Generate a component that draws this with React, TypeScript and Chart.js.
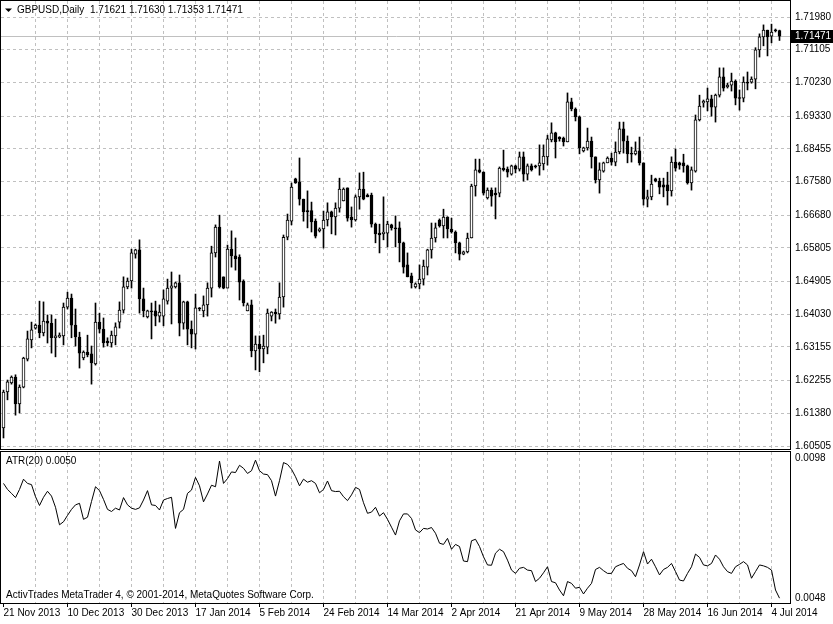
import React, { useEffect, useRef } from 'react';
import { Chart, registerables } from 'chart.js';

Chart.register(...registerables);

const symbolTitle = 'GBPUSD,Daily';
const atrPeriod = 20;
const copyrightText = 'ActivTrades MetaTrader 4, \u00A9 2001-2014, MetaQuotes Software Corp.';

const dateLabels = ['21 Nov 2013', '10 Dec 2013', '30 Dec 2013', '17 Jan 2014', '5 Feb 2014', '24 Feb 2014', '14 Mar 2014', '2 Apr 2014', '21 Apr 2014', '9 May 2014', '28 May 2014', '16 Jun 2014', '4 Jul 2014'];
const priceTicks = [1.60505, 1.6138, 1.62255, 1.63155, 1.6403, 1.64905, 1.65805, 1.6668, 1.6758, 1.68455, 1.6933, 1.7023, 1.71105, 1.7198];
const atrAxisLabels = ['0.0098', '0.0048'];
const atrMin = 0.0048;
const atrMax = 0.0098;
const priceMin = 1.60425;
const priceMax = 1.72409;

const opens = [
  1.6099, 1.6195, 1.6219, 1.6235, 1.6163, 1.6208, 1.6283, 1.6334, 1.6366, 1.6374,
  1.6353, 1.6385, 1.6379, 1.6340, 1.6342, 1.6345, 1.6422, 1.6446, 1.6374, 1.6342,
  1.6286, 1.6302, 1.6297, 1.6270, 1.6382, 1.6363, 1.6331, 1.6326, 1.6345, 1.6382,
  1.6414, 1.6476, 1.6492, 1.6564, 1.6575, 1.6444, 1.6396, 1.6412, 1.6412, 1.6398,
  1.6398, 1.6438, 1.6473, 1.6476, 1.6487, 1.6379, 1.6436, 1.6363, 1.6350, 1.6420,
  1.6412, 1.6428, 1.6473, 1.6567, 1.6636, 1.6503, 1.6473, 1.6577, 1.6559, 1.6556,
  1.6492, 1.6412, 1.6428, 1.6305, 1.6323, 1.6310, 1.6315, 1.6398, 1.6409, 1.6404,
  1.6449, 1.6609, 1.6652, 1.6765, 1.6757, 1.6711, 1.6680, 1.6680, 1.6652, 1.6626,
  1.6631, 1.6655, 1.6677, 1.6663, 1.6687, 1.6706, 1.6741, 1.6663, 1.6655, 1.6717,
  1.6738, 1.6722, 1.6722, 1.6644, 1.6620, 1.6618, 1.6620, 1.6642, 1.6634, 1.6634,
  1.6594, 1.6535, 1.6506, 1.6476, 1.6484, 1.6497, 1.6529, 1.6575, 1.6607, 1.6655,
  1.6639, 1.6663, 1.6631, 1.6623, 1.6594, 1.6564, 1.6570, 1.6607, 1.6746, 1.6789,
  1.6783, 1.6714, 1.6735, 1.6727, 1.6727, 1.6794, 1.6791, 1.6778, 1.6800, 1.6791,
  1.6824, 1.6778, 1.6800, 1.6800, 1.6800, 1.6805, 1.6824, 1.6869, 1.6888, 1.6877,
  1.6874, 1.6864, 1.6971, 1.6952, 1.6931, 1.6840, 1.6848, 1.6866, 1.6824, 1.6762,
  1.6786, 1.6808, 1.6821, 1.6810, 1.6837, 1.6899, 1.6866, 1.6832, 1.6832, 1.6840,
  1.6808, 1.6711, 1.6717, 1.6765, 1.6759, 1.6749, 1.6749, 1.6733, 1.6810, 1.6808,
  1.6808, 1.6800, 1.6754, 1.6786, 1.6923, 1.6968, 1.6971, 1.6979, 1.6957, 1.6989,
  1.7038, 1.7011, 1.7016, 1.7027, 1.6981, 1.6981, 1.7024, 1.7024, 1.7032, 1.7110,
  1.7145, 1.7163, 1.7147, 1.7163, 1.71621,
];

const highs = [
  1.6200, 1.6227, 1.6238, 1.6241, 1.6214, 1.6288, 1.6358, 1.6382, 1.6377, 1.6438,
  1.6436, 1.6401, 1.6401, 1.6390, 1.6353, 1.6433, 1.6462, 1.6457, 1.6417, 1.6355,
  1.6305, 1.6347, 1.6318, 1.6433, 1.6406, 1.6393, 1.6340, 1.6358, 1.6380, 1.6436,
  1.6503, 1.6500, 1.6577, 1.6577, 1.6602, 1.6473, 1.6414, 1.6433, 1.6438, 1.6428,
  1.6468, 1.6497, 1.6516, 1.6489, 1.6508, 1.6438, 1.6438, 1.6385, 1.6457, 1.6421,
  1.6452, 1.6487, 1.6585, 1.6642, 1.6668, 1.6503, 1.6588, 1.6626, 1.6607, 1.6562,
  1.6495, 1.6433, 1.6441, 1.6345, 1.6345, 1.6347, 1.6417, 1.6410, 1.6417, 1.6487,
  1.6615, 1.6671, 1.6754, 1.6767, 1.6821, 1.6711, 1.6733, 1.6703, 1.6658, 1.6634,
  1.6679, 1.6701, 1.6679, 1.6701, 1.6767, 1.6741, 1.6741, 1.6690, 1.6722, 1.6781,
  1.6783, 1.6725, 1.6727, 1.6647, 1.6644, 1.6717, 1.6652, 1.6644, 1.6666, 1.6650,
  1.6596, 1.6567, 1.6513, 1.6487, 1.6535, 1.6548, 1.6577, 1.6647, 1.6647, 1.6658,
  1.6684, 1.6664, 1.6660, 1.6626, 1.6596, 1.6572, 1.6620, 1.6751, 1.6818, 1.6818,
  1.6784, 1.6741, 1.6741, 1.6741, 1.6797, 1.6842, 1.6797, 1.6802, 1.6802, 1.6837,
  1.6837, 1.6805, 1.6805, 1.6802, 1.6856, 1.6856, 1.6882, 1.6915, 1.6890, 1.6878,
  1.6877, 1.6995, 1.6981, 1.6955, 1.6933, 1.6850, 1.6901, 1.6877, 1.6824, 1.6808,
  1.6810, 1.6824, 1.6834, 1.6864, 1.6917, 1.6917, 1.6880, 1.6850, 1.6864, 1.6877,
  1.6808, 1.6735, 1.6775, 1.6767, 1.6767, 1.6767, 1.6783, 1.6824, 1.6845, 1.6810,
  1.6831, 1.6802, 1.6797, 1.6936, 1.6989, 1.6976, 1.7008, 1.6989, 1.6992, 1.7062,
  1.7062, 1.7021, 1.7048, 1.7030, 1.7003, 1.7038, 1.7051, 1.7038, 1.7116, 1.7153,
  1.7177, 1.7163, 1.7179, 1.7166, 1.71630,
];

const lows = [
  1.6072, 1.6174, 1.6216, 1.6133, 1.6139, 1.6206, 1.6278, 1.6313, 1.6363, 1.6340,
  1.6345, 1.6326, 1.6299, 1.6289, 1.6340, 1.6321, 1.6417, 1.6340, 1.6318, 1.6259,
  1.6281, 1.6289, 1.6216, 1.6267, 1.6353, 1.6315, 1.6318, 1.6315, 1.6321, 1.6366,
  1.6406, 1.6471, 1.6473, 1.6553, 1.6406, 1.6396, 1.6393, 1.6337, 1.6372, 1.6382,
  1.6372, 1.6430, 1.6377, 1.6473, 1.6345, 1.6363, 1.6321, 1.6313, 1.6310, 1.6412,
  1.6396, 1.6398, 1.6449, 1.6556, 1.6473, 1.6471, 1.6473, 1.6529, 1.6521, 1.6441,
  1.6425, 1.6412, 1.6289, 1.6254, 1.6249, 1.6273, 1.6297, 1.6385, 1.6379, 1.6390,
  1.6422, 1.6602, 1.6642, 1.6753, 1.6695, 1.6652, 1.6634, 1.6623, 1.6607, 1.6623,
  1.6580, 1.6639, 1.6618, 1.6615, 1.6676, 1.6706, 1.6652, 1.6636, 1.6652, 1.6684,
  1.6709, 1.6717, 1.6636, 1.6594, 1.6567, 1.6602, 1.6583, 1.6628, 1.6583, 1.6543,
  1.6513, 1.6503, 1.6473, 1.6473, 1.6471, 1.6481, 1.6508, 1.6553, 1.6596, 1.6636,
  1.6607, 1.6607, 1.6620, 1.6567, 1.6548, 1.6562, 1.6567, 1.6607, 1.6719, 1.6781,
  1.6722, 1.6711, 1.6692, 1.6658, 1.6717, 1.6786, 1.6770, 1.6775, 1.6781, 1.6786,
  1.6759, 1.6762, 1.6786, 1.6794, 1.6775, 1.6789, 1.6802, 1.6864, 1.6821, 1.6866,
  1.6853, 1.6864, 1.6947, 1.6920, 1.6832, 1.6837, 1.6842, 1.6794, 1.6754, 1.6727,
  1.6783, 1.6808, 1.6802, 1.6800, 1.6832, 1.6834, 1.6808, 1.6810, 1.6829, 1.6802,
  1.6695, 1.6690, 1.6709, 1.6757, 1.6725, 1.6717, 1.6695, 1.6719, 1.6786, 1.6791,
  1.6783, 1.6751, 1.6735, 1.6783, 1.6920, 1.6957, 1.6947, 1.6933, 1.6917, 1.6984,
  1.7000, 1.7008, 1.7000, 1.6963, 1.6949, 1.6971, 1.7003, 1.7021, 1.7006, 1.7091,
  1.7121, 1.7094, 1.7129, 1.7158, 1.71353,
];

const closes = [
  1.6195, 1.6222, 1.6235, 1.6163, 1.6208, 1.6286, 1.6337, 1.6361, 1.6374, 1.6353,
  1.6385, 1.6379, 1.6340, 1.6345, 1.6347, 1.6422, 1.6446, 1.6374, 1.6342, 1.6299,
  1.6302, 1.6294, 1.6273, 1.6382, 1.6363, 1.6326, 1.6326, 1.6347, 1.6369, 1.6414,
  1.6476, 1.6492, 1.6567, 1.6575, 1.6444, 1.6412, 1.6412, 1.6409, 1.6398, 1.6409,
  1.6444, 1.6473, 1.6479, 1.6487, 1.6379, 1.6436, 1.6363, 1.6350, 1.6420, 1.6417,
  1.6428, 1.6473, 1.6567, 1.6636, 1.6476, 1.6473, 1.6577, 1.6559, 1.6551, 1.6489,
  1.6433, 1.6428, 1.6305, 1.6323, 1.6310, 1.6318, 1.6406, 1.6409, 1.6404, 1.6449,
  1.6609, 1.6655, 1.6743, 1.6754, 1.6711, 1.6677, 1.6677, 1.6650, 1.6612, 1.6631,
  1.6655, 1.6677, 1.6663, 1.6687, 1.6738, 1.6738, 1.6660, 1.6655, 1.6717, 1.6738,
  1.6711, 1.6717, 1.6644, 1.6618, 1.6615, 1.6623, 1.6644, 1.6634, 1.6631, 1.6594,
  1.6529, 1.6503, 1.6487, 1.6484, 1.6497, 1.6532, 1.6575, 1.6607, 1.6634, 1.6639,
  1.6663, 1.6631, 1.6623, 1.6594, 1.6564, 1.6570, 1.6607, 1.6746, 1.6789, 1.6783,
  1.6727, 1.6735, 1.6719, 1.6722, 1.6794, 1.6789, 1.6783, 1.6800, 1.6791, 1.6824,
  1.6778, 1.6800, 1.6789, 1.6797, 1.6808, 1.6826, 1.6872, 1.6888, 1.6864, 1.6872,
  1.6864, 1.6971, 1.6952, 1.6931, 1.6848, 1.6848, 1.6866, 1.6824, 1.6762, 1.6789,
  1.6808, 1.6821, 1.6810, 1.6837, 1.6899, 1.6866, 1.6832, 1.6831, 1.6840, 1.6808,
  1.6711, 1.6717, 1.6751, 1.6759, 1.6743, 1.6743, 1.6733, 1.6810, 1.6794, 1.6802,
  1.6800, 1.6754, 1.6789, 1.6923, 1.6960, 1.6973, 1.6979, 1.6957, 1.6989, 1.7038,
  1.7008, 1.7016, 1.7027, 1.6981, 1.6980, 1.7024, 1.7021, 1.7032, 1.7110, 1.7145,
  1.7163, 1.7145, 1.7158, 1.7161, 1.71471,
];

const atrValues = [
  0.00876, 0.00856, 0.00843, 0.00829, 0.00856, 0.00890, 0.00876, 0.00872, 0.00832, 0.00803,
  0.00830, 0.00850, 0.00834, 0.00797, 0.00739, 0.00749, 0.00770, 0.00790, 0.00805, 0.00810,
  0.00757, 0.00764, 0.00816, 0.00865, 0.00852, 0.00823, 0.00790, 0.00783, 0.00794, 0.00788,
  0.00829, 0.00805, 0.00794, 0.00790, 0.00795, 0.00821, 0.00852, 0.00805, 0.00803, 0.00788,
  0.00821, 0.00826, 0.00830, 0.00727, 0.00779, 0.00790, 0.00843, 0.00854, 0.00896, 0.00868,
  0.00815, 0.00841, 0.00870, 0.00865, 0.00950, 0.00876, 0.00892, 0.00914, 0.00912, 0.00936,
  0.00926, 0.00909, 0.00918, 0.00953, 0.00918, 0.00907, 0.00905, 0.00885, 0.00834, 0.00885,
  0.00945, 0.00939, 0.00923, 0.00898, 0.00868, 0.00890, 0.00880, 0.00885, 0.00876, 0.00845,
  0.00856, 0.00884, 0.00852, 0.00849, 0.00850, 0.00832, 0.00819, 0.00838, 0.00863, 0.00856,
  0.00812, 0.00777, 0.00781, 0.00797, 0.00768, 0.00779, 0.00757, 0.00731, 0.00705, 0.00752,
  0.00775, 0.00775, 0.00760, 0.00722, 0.00713, 0.00727, 0.00725, 0.00730, 0.00711, 0.00678,
  0.00674, 0.00694, 0.00658, 0.00674, 0.00667, 0.00619, 0.00617, 0.00686, 0.00691, 0.00667,
  0.00633, 0.00606, 0.00605, 0.00645, 0.00658, 0.00650, 0.00622, 0.00589, 0.00578, 0.00595,
  0.00598, 0.00589, 0.00587, 0.00551, 0.00562, 0.00580, 0.00600, 0.00551, 0.00547, 0.00523,
  0.00504, 0.00551, 0.00545, 0.00529, 0.00532, 0.00510, 0.00529, 0.00545, 0.00591, 0.00598,
  0.00587, 0.00578, 0.00578, 0.00600, 0.00606, 0.00611, 0.00595, 0.00587, 0.00567, 0.00606,
  0.00650, 0.00609, 0.00625, 0.00600, 0.00573, 0.00591, 0.00598, 0.00611, 0.00584, 0.00556,
  0.00553, 0.00578, 0.00600, 0.00642, 0.00631, 0.00606, 0.00603, 0.00611, 0.00639, 0.00625,
  0.00600, 0.00584, 0.00578, 0.00600, 0.00608, 0.00617, 0.00606, 0.00562, 0.00584, 0.00606,
  0.00603, 0.00598, 0.00589, 0.00523, 0.00496,
];

const FONT_FAMILY = '"Liberation Sans", Arial, sans-serif';
const FONT = '10px ' + FONT_FAMILY;
const N = closes.length;
const GRID_STEP = 8;
const LABEL_STEP = 16;
const X_MIN = -0.625;
const X_MAX = X_MIN + 197.25;
const gridIdx: number[] = [];
for (let v = 0; v < N; v += GRID_STEP) gridIdx.push(v);
const GRID_COLOR = '#c0c0c0';

const zeroPad = (s: any) => {
  s.paddingTop = 0;
  s.paddingBottom = 0;
  s.paddingLeft = 0;
  s.paddingRight = 0;
};

const mainDecor = {
  id: 'mainDecor',
  beforeDatasetsDraw(chart: any) {
    const { ctx, chartArea: a, scales } = chart;
    const yy = Math.round(scales.y.getPixelForValue(closes[N - 1])) + 0.5;
    ctx.save();
    ctx.strokeStyle = '#c0c0c0';
    ctx.lineWidth = 1;
    ctx.beginPath();
    ctx.moveTo(a.left, yy);
    ctx.lineTo(a.right + 2, yy);
    ctx.stroke();
    ctx.restore();
  },
  afterDraw(chart: any) {
    const { ctx, chartArea: a, scales } = chart;
    ctx.save();
    ctx.strokeStyle = '#000';
    ctx.lineWidth = 1;
    ctx.strokeRect(a.left - 0.5, a.top - 0.5, a.right - a.left + 1, a.bottom - a.top + 1);
    // current price box
    const yc = Math.round(scales.y.getPixelForValue(closes[N - 1]));
    ctx.fillStyle = '#000';
    ctx.fillRect(a.right + 1, yc - 6, 42, 13);
    ctx.fillStyle = '#fff';
    ctx.font = FONT;
    ctx.textBaseline = 'middle';
    ctx.textAlign = 'left';
    ctx.fillText(closes[N - 1].toFixed(5), a.right + 5, yc + 0.5);
    // header
    ctx.fillStyle = '#000';
    ctx.beginPath();
    ctx.moveTo(5, 8.5);
    ctx.lineTo(12, 8.5);
    ctx.lineTo(8.5, 12);
    ctx.closePath();
    ctx.fill();
    ctx.fillText(symbolTitle, 17, 10.5);
    const ohlc = [opens[N - 1], highs[N - 1], lows[N - 1], closes[N - 1]].map((v) => v.toFixed(5)).join(' ');
    ctx.fillText(ohlc, 90, 10.5);
    ctx.restore();
  },
};

const atrDecor = {
  id: 'atrDecor',
  afterDraw(chart: any) {
    const { ctx, chartArea: a } = chart;
    ctx.save();
    ctx.strokeStyle = '#000';
    ctx.lineWidth = 1;
    ctx.strokeRect(a.left - 0.5, a.top - 0.5, a.right - a.left + 1, a.bottom - a.top + 1);
    ctx.fillStyle = '#000';
    ctx.font = FONT;
    ctx.textBaseline = 'middle';
    ctx.textAlign = 'left';
    ctx.fillText('ATR(' + atrPeriod + ') ' + atrValues[N - 1].toFixed(4), 6, a.top + 9);
    ctx.fillText(copyrightText, 6, a.bottom - 8);
    ctx.fillText(atrAxisLabels[0], a.right + 5, a.top + 6);
    ctx.fillText(atrAxisLabels[1], a.right + 5, a.bottom - 5);
    ctx.restore();
  },
};

export default function App() {
  const mainRef = useRef<HTMLCanvasElement>(null);
  const atrRef = useRef<HTMLCanvasElement>(null);

  useEffect(() => {
    document.body.style.margin = '0';
    const font = { family: FONT_FAMILY, size: 10 };
    const xCommon = {
      type: 'linear' as const,
      min: X_MIN,
      max: X_MAX,
      offset: false,
      position: 'bottom' as const,
      afterBuildTicks: (s: any) => {
        s.ticks = gridIdx.map((v) => ({ value: v }));
      },
      border: { display: false, dash: [3, 3] },
    };

    const mainChart = new Chart(mainRef.current as HTMLCanvasElement, {
      type: 'bar',
      data: {
        datasets: [
          {
            label: 'wick',
            data: highs.map((h, i) => ({ x: i, y: [lows[i], h] })) as any,
            backgroundColor: '#000',
            borderWidth: 0,
            barThickness: 1,
            grouped: false,
            order: 2,
          },
          {
            label: 'body',
            data: opens.map((o, i) => ({ x: i, y: [o, closes[i]] })) as any,
            backgroundColor: opens.map((o, i) => (closes[i] >= o ? '#fff' : '#000')),
            borderColor: '#000',
            borderWidth: 1,
            borderSkipped: false,
            barThickness: 3,
            minBarLength: 1,
            grouped: false,
            order: 1,
          },
        ],
      },
      options: {
        responsive: false,
        animation: false,
        devicePixelRatio: 1,
        events: [],
        layout: { padding: { left: 1, top: 1, right: 0, bottom: 2 } },
        plugins: { legend: { display: false }, tooltip: { enabled: false } },
        scales: {
          x: {
            ...xCommon,
            afterFit: (s: any) => {
              s.height = 0;
              zeroPad(s);
            },
            ticks: { display: false },
            grid: {
              offset: false,
              color: (c: any) => (c.tick && c.tick.value === 0 ? 'rgba(0,0,0,0)' : GRID_COLOR),
              drawTicks: false,
            },
          } as any,
          y: {
            type: 'linear',
            position: 'right',
            min: priceMin,
            max: priceMax,
            afterBuildTicks: (s: any) => {
              s.ticks = priceTicks.map((v) => ({ value: v }));
            },
            afterFit: (s: any) => {
              s.width = 43;
              zeroPad(s);
            },
            ticks: {
              callback: (v: any) => Number(v).toFixed(5),
              font,
              color: '#000',
              padding: 5,
            },
            grid: { color: GRID_COLOR, drawTicks: false },
            border: { display: false, dash: [3, 3] },
          } as any,
        },
      },
      plugins: [mainDecor],
    });

    const atrChart = new Chart(atrRef.current as HTMLCanvasElement, {
      type: 'line',
      data: {
        datasets: [
          {
            label: 'ATR',
            data: atrValues.map((v, i) => ({ x: i, y: v })),
            borderColor: '#000',
            borderWidth: 1,
            pointRadius: 0,
            tension: 0,
            fill: false,
          },
        ],
      },
      options: {
        responsive: false,
        animation: false,
        devicePixelRatio: 1,
        events: [],
        layout: { padding: { left: 1, top: 1, right: 0, bottom: 0 } },
        plugins: { legend: { display: false }, tooltip: { enabled: false } },
        scales: {
          x: {
            ...xCommon,
            afterFit: (s: any) => {
              s.height = 21;
              zeroPad(s);
            },
            ticks: {
              autoSkip: false,
              maxRotation: 0,
              minRotation: 0,
              align: 'start',
              padding: 0,
              font,
              color: '#000',
              callback: (v: any) => (Number(v) % LABEL_STEP === 0 ? dateLabels[Number(v) / LABEL_STEP] : ''),
            },
            grid: {
              offset: false,
              color: (c: any) => (c.tick && c.tick.value === 0 ? 'rgba(0,0,0,0)' : GRID_COLOR),
              tickColor: (c: any) => (c.tick && c.tick.value % LABEL_STEP === 0 ? '#000' : 'rgba(0,0,0,0)'),
              tickLength: 4,
              drawTicks: true,
            },
          } as any,
          y: {
            type: 'linear',
            position: 'right',
            min: atrMin,
            max: atrMax,
            afterFit: (s: any) => {
              s.width = 43;
              zeroPad(s);
            },
            ticks: { display: false },
            grid: { display: false },
            border: { display: false },
          } as any,
        },
      },
      plugins: [atrDecor],
    });

    return () => {
      mainChart.destroy();
      atrChart.destroy();
    };
  }, []);

  return (
    <div style={{ position: 'relative', width: 833, height: 624, background: '#fff', overflow: 'hidden' }}>
      <canvas ref={mainRef} width={833} height={451} style={{ position: 'absolute', left: 0, top: 0, width: 833, height: 451 }} />
      <canvas ref={atrRef} width={833} height={173} style={{ position: 'absolute', left: 0, top: 451, width: 833, height: 173 }} />
    </div>
  );
}
